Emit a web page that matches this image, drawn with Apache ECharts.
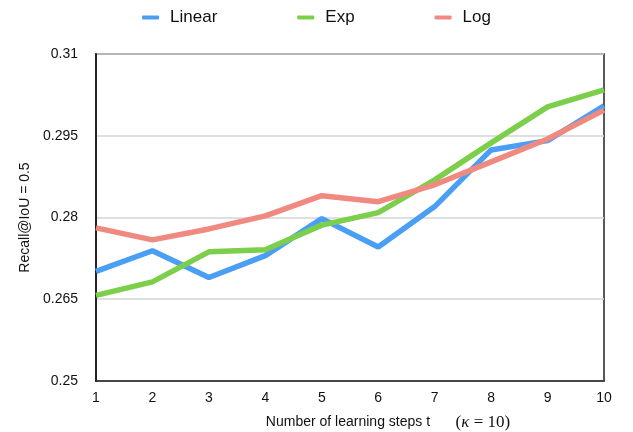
<!DOCTYPE html>
<html>
<head>
<meta charset="utf-8">
<script src="https://cdn.jsdelivr.net/npm/echarts@6/dist/echarts.min.js"></script>
<style>
html,body{margin:0;padding:0;background:#fff;}
#chart{width:633px;height:432px;}
</style>
</head>
<body>
<div id="chart"></div>
<script>
var steps = ['1','2','3','4','5','6','7','8','9','10'];
var linear = [0.2701, 0.2739, 0.2690, 0.2730, 0.2798, 0.2746, 0.2820, 0.2924, 0.2941, 0.3005];
var expo   = [0.2657, 0.2682, 0.2737, 0.2741, 0.2786, 0.2809, 0.2869, 0.2937, 0.3003, 0.3034];
var logv   = [0.2781, 0.2759, 0.2779, 0.2803, 0.2840, 0.2829, 0.2860, 0.2902, 0.2944, 0.2997];
var yTicks = ['0.25', '0.265', '0.28', '0.295', '0.31'];

var chart = echarts.init(document.getElementById('chart'));
var font = 'Liberation Sans, Arial, Helvetica, sans-serif';
function line(name, data, color) {
  return {
    name: name, type: 'line', data: data, symbol: 'none',
    lineStyle: { width: 5.5, color: color },
    itemStyle: { color: color },
    z: 3
  };
}
chart.setOption({
  animation: false,
  backgroundColor: '#fff',
  legend: {
    top: 4, left: 'center',
    icon: 'roundRect', itemWidth: 17, itemHeight: 4, itemGap: 80,
    textStyle: { fontFamily: font, fontSize: 17, color: '#111', padding: [0, 0, 0, 6] },
    data: ['Linear', 'Exp', 'Log']
  },
  grid: {
    left: 96, right: 29, top: 54, bottom: 51,
    outerBoundsMode: 'none', containLabel: false,
    show: true, borderColor: '#222', borderWidth: 1.5, backgroundColor: 'transparent'
  },
  xAxis: {
    type: 'category', data: steps, boundaryGap: false,
    axisLine: { lineStyle: { color: '#222', width: 1.5 } },
    axisTick: { show: false },
    axisLabel: { fontFamily: font, fontSize: 14, color: '#111', margin: 10 },
    name: '{a|Number of learning steps t}{b|      (}{c|κ}{b| = 10)}',
    nameLocation: 'middle', nameGap: 33,
    nameTextStyle: {
      padding: [0, 0, 0, 76],
      rich: {
        a: { fontFamily: font, fontSize: 14, color: '#111' },
        b: { fontFamily: 'Liberation Serif, Times New Roman, serif', fontSize: 17, color: '#111' },
        c: { fontFamily: 'Liberation Serif, Times New Roman, serif', fontSize: 17, fontStyle: 'italic', color: '#111' }
      }
    },
    splitLine: { show: false }
  },
  yAxis: {
    type: 'value', min: 0.25, max: 0.31, interval: 0.015,
    axisLine: { show: true, lineStyle: { color: '#222', width: 2 } },
    axisTick: { show: false },
    axisLabel: {
      fontFamily: font, fontSize: 14, color: '#111', margin: 18,
      formatter: function (v) {
        var r = Math.round(v * 1000) / 1000;
        for (var i = 0; i < yTicks.length; i++) { if (Math.abs(parseFloat(yTicks[i]) - r) < 1e-6) return yTicks[i]; }
        return String(r);
      }
    },
    splitLine: { show: true, lineStyle: { color: '#d4d4d4', width: 1.5 } },
    name: 'Recall@IoU = 0.5', nameLocation: 'middle', nameGap: 62,
    nameTextStyle: { fontFamily: font, fontSize: 14, color: '#111' }
  },
  series: [
    line('Linear', linear, '#4A9FF5'),
    line('Exp', expo, '#7CCF4A'),
    line('Log', logv, '#F08A80')
  ]
});
</script>
</body>
</html>
